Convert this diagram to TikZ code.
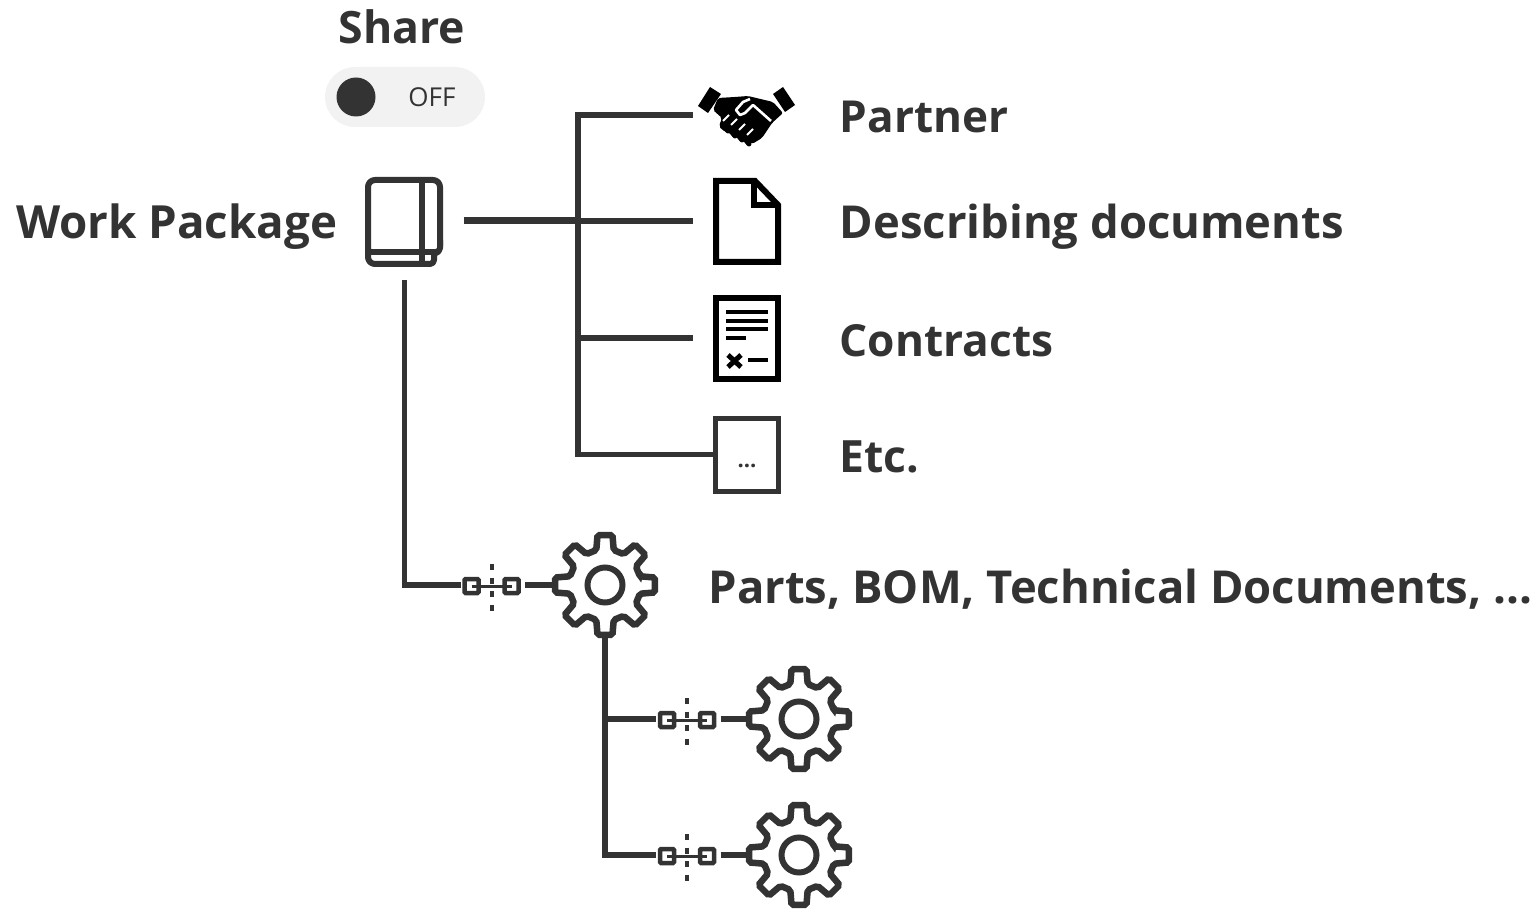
\documentclass[tikz,border=0pt]{standalone}
\usepackage{fontspec}
\setmainfont{Open Sans}
\definecolor{ink}{HTML}{333333}
\definecolor{pill}{HTML}{F2F2F2}
\tikzset{
    lbl/.style={anchor=base west,inner sep=0pt,text=ink,font=\fontsize{#1}{#1}\selectfont\bfseries},
    hook/.style={inner sep=0pt,minimum width=#1},
    wire/.style={draw=ink,line width=5.5pt},
    icon/.style={draw=black,line width=6pt,miter limit=4},
    pics/gearicon/.style={code={
        \draw[ink,line width=6.5pt,rounded corners=2pt] (-14:36)
            \foreach \a in {0,45,...,315} {
                -- ({\a-14}:36) -- ({\a-8.5}:50.5) -- ({\a+8.5}:50.5) -- ({\a+14}:36)
            } -- cycle;
        \draw[ink,line width=6pt] (0,0) circle (17.5);
    }},
    pics/linkicon/.style={code={
        \draw[ink,line width=4.5pt,rounded corners=1pt] (-27,-7) rectangle (-13,7);
        \draw[ink,line width=4.5pt,rounded corners=1pt] (13,-7) rectangle (27,7);
        \draw[ink,line width=3pt] (-20,0) -- (20,0);
        \draw[ink,line width=4pt,dash pattern=on 6pt off 7.5pt] (0,-22) -- (0,27);
    }},
}
\begin{document}
\begin{tikzpicture}[x=1pt,y=-1pt]
\useasboundingbox (0,0) rectangle (1539,909);

% toggle
\node[lbl=44.6,anchor=base] (share) at (402,44) {Share};
\fill[pill,rounded corners=30pt] (325,67) rectangle (485,127);
\node[circle,fill=ink,minimum size=39pt,inner sep=0pt] (knob) at (356,97) {};
\node[anchor=base,inner sep=0pt,text=ink,font=\fontsize{26}{26}\selectfont] (off) at (432,107) {OFF};

% anchors for the connectors
\node[lbl=45.7] (wp) at (16,239) {Work Package};
\node[hook=118pt,minimum height=118pt] (book) at (404.5,221) {};
\node[hook=20pt,minimum height=60pt,anchor=west] (partner) at (693,115) {};
\node[hook=20pt,minimum height=60pt,anchor=west] (doc) at (693,221) {};
\node[hook=20pt,minimum height=60pt,anchor=west] (contract) at (693,338) {};
\node[draw=ink,line width=5pt,minimum width=63pt,minimum height=73pt,inner sep=0pt,text=ink] (etc) at (747,454.5) {};
\node[inner sep=0pt,text=ink,font=\fontsize{22}{22}\selectfont\bfseries,anchor=base] (dots) at (747,467) {...};
\coordinate (busT) at (578,115);
\coordinate (busD) at (578,221);
\coordinate (busC) at (578,338);
\coordinate (busB) at (578,454.5);

\node[lbl=44.1] (tpartner) at (839.5,133) {Partner};
\node[lbl=45.4] (tdoc) at (839.5,239) {Describing documents};
\node[lbl=44.2] (tcontract) at (839.5,356) {Contracts};
\node[lbl=44.5] (tetc) at (839.5,472) {Etc.};
\node[lbl=45.4] (tparts) at (708.5,603) {Parts, BOM, Technical Documents, ...};

% gears and links
\foreach \n/\x/\y in {A/605/585,B/799/719,C/799/855}
    \node[circle,minimum size=106pt,inner sep=0pt] (gear\n) at (\x,\y) {};
\foreach \n/\x/\y in {A/491.5/585,B/687/719,C/687/855}
    \node[hook=61pt,minimum height=20pt] (lnk\n) at (\x,\y) {};
\foreach \n in {A,B,C} {
    \pic at (gear\n) {gearicon};
    \pic[yshift=-1pt] at (lnk\n) {linkicon};
    \draw[wire] (lnk\n.east) ++(3,0) -- (gear\n.west);
}

\draw[wire] (partner.west) -| (busB) -- (etc.west);
\draw[wire,line width=7pt] (book.east) -- (busD);
\draw[wire] (busD) -- (doc.west);
\draw[wire] (busC) -- (contract.west);
\draw[wire] (book.south) |- (lnkA.west);
\draw[wire] (gearA.south) |- (lnkB.west);
\draw[wire] (gearA.south) |- (lnkC.west);

% book
\begin{scope}[ink,line width=6pt,line join=round]
\draw[rounded corners=7pt] (368,252) -- (368,180) -- (440,180) -- (440,246);
\draw[rounded corners=4pt] (440,240) -- (440,252) -- (434,252) -- (434,264) -- (420,264);
\draw[rounded corners=7pt] (425,264) -- (368,264) -- (368,248);
\draw (368,252) -- (436,252);
\draw (422,180) -- (422,264);
\end{scope}

% document
\draw[icon] (716,181) -- (755,181) -- (778,205) -- (778,262) -- (716,262) -- cycle;
\draw[icon,line width=5.5pt] (754,181) -- (754,205) -- (778,205);

% contract
\draw[icon] (716,298) rectangle (778,379);
\foreach \y in {312,321,329}
    \draw[black,line width=4pt] (726,\y) -- (768,\y);
\draw[black,line width=4pt] (726,338) -- (746,338);
\draw[black,line width=4pt] (748,360) -- (768,360);
\draw[black,line width=5pt] (728,355) -- (741,367) (741,355) -- (728,367);

% handshake
\fill[black] (710,87) -- (721,94) -- (708,113) -- (698,106) -- cycle;
\fill[black] (783,87) -- (795,105) -- (785,112) -- (773,94) -- cycle;
\fill[black,rounded corners=2pt] (718,98) -- (735,97) -- (748,96) -- (773,102) -- (783,113) -- (772,123) -- (762,138) -- (752,144) -- (740,138) -- (722,130) -- (719,126) -- (722,118) -- (713,110) -- cycle;
\draw[white,line width=2.6pt,line join=round] (750,99) -- (743,102) -- (736,110) -- (740,115) -- (745,113) -- (753,105) -- (771,121);
\foreach \x/\y in {723/121,731/125,739/130,747/135}
    \draw[white,line width=2pt] (\x,\y) -- (\x+6,\y-6);
\foreach \x/\y in {726/130,733/135,740/139,747/143}
    \draw[black,line width=5pt,line cap=round] (\x-2,\y-4) -- (\x+2,\y+1);
\end{tikzpicture}
\end{document}
